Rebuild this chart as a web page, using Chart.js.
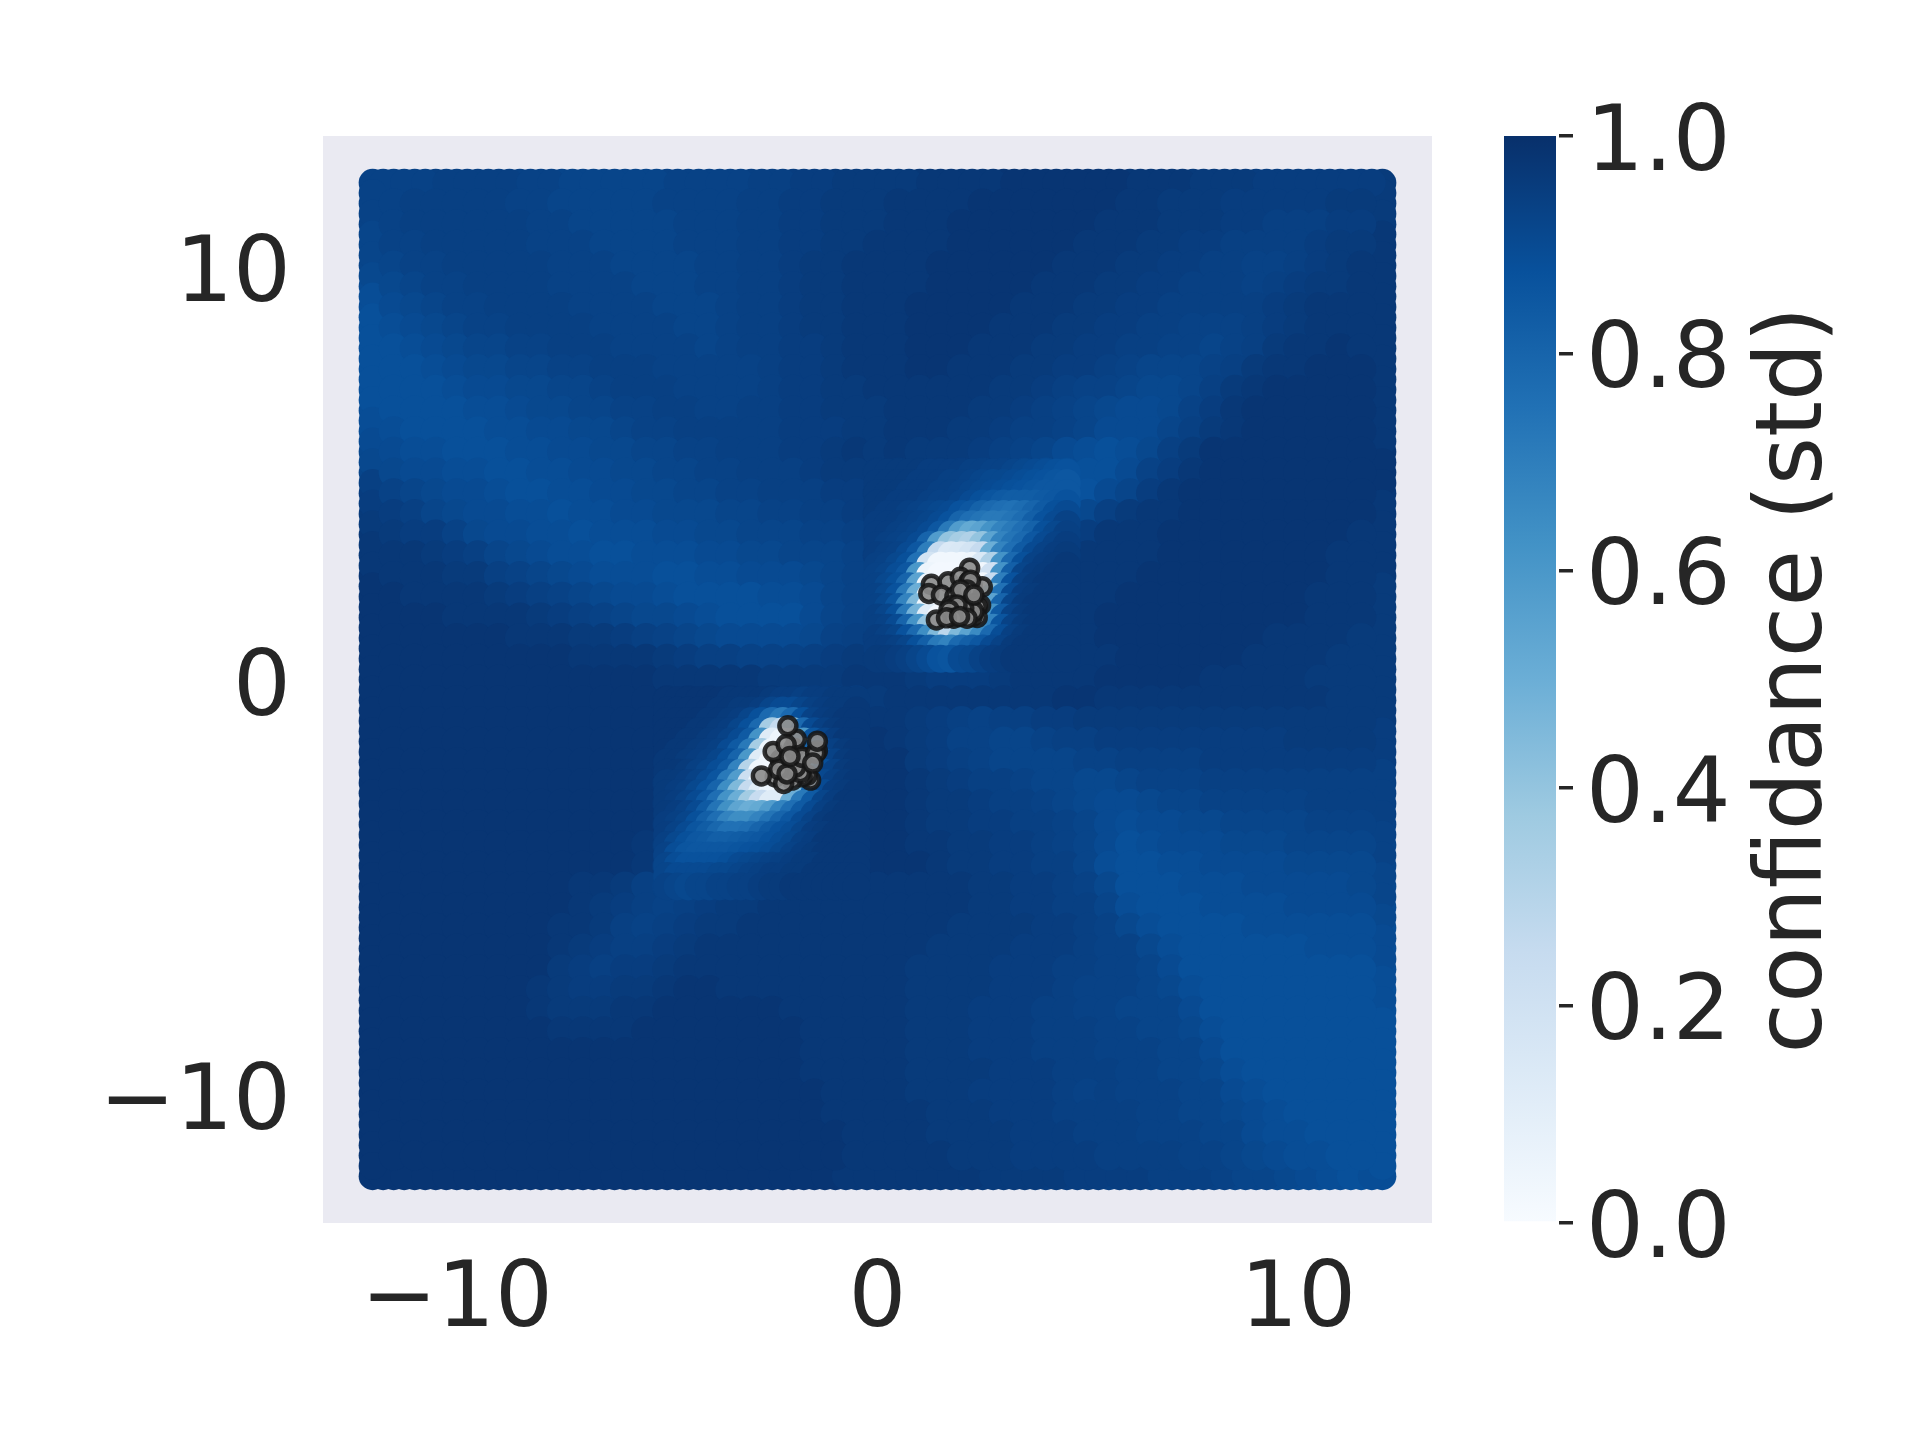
<!DOCTYPE html>
<html><head><meta charset="utf-8"><style>html,body{margin:0;background:#fff}canvas{position:absolute;left:0;top:0}</style>
<script src="https://cdn.jsdelivr.net/npm/chart.js@4"></script></head><body>
<canvas id="main" width="1920" height="1440"></canvas><canvas id="bar" width="1920" height="1440"></canvas>
<script>
const xTicks=[-10,0,10], yTicks=[-10,0,10], barTicks=[0,0.2,0.4,0.6,0.8,1.0];
const barLabel="confidance (std)";
// confidence in percent, rows y=12..-12, columns x=-12..12, step 0.5
const gridRows=[
[93,93,93,94,94,94,94,93,93,92,92,92,92,92,93,93,93,93,94,94,95,95,96,96,96,96,97,97,97,97,98,98,98,98,98,98,97,97,97,96,96,96,95,95,95,95,95,95,96],
[93,93,94,94,94,94,94,93,93,92,92,92,92,92,93,93,93,93,94,94,95,95,96,96,96,97,97,97,97,98,98,98,98,98,98,98,97,97,96,96,96,95,95,95,95,95,96,96,96],
[93,93,94,94,94,94,94,94,93,93,92,92,92,92,92,93,93,93,94,94,95,95,96,96,96,97,97,97,98,98,98,98,98,98,98,97,97,97,96,96,96,95,95,94,94,94,95,95,96],
[92,93,93,94,94,94,94,94,93,93,93,92,92,92,92,93,93,93,94,94,95,95,96,96,97,97,97,97,98,98,98,98,98,98,97,97,97,96,96,95,95,94,94,94,94,95,96,96,97],
[92,92,93,93,94,94,94,94,94,93,93,93,92,92,92,92,93,93,94,94,95,96,96,97,97,97,97,98,98,98,98,98,98,97,97,97,96,96,95,95,94,94,93,93,94,95,96,97,97],
[90,91,92,93,93,94,94,94,94,93,93,93,93,92,92,92,93,93,94,94,95,96,96,97,97,97,97,98,98,98,98,98,97,97,97,96,96,95,95,94,94,94,93,94,95,96,96,97,97],
[89,90,91,92,93,93,94,94,94,94,93,93,93,93,92,92,92,93,94,94,95,96,96,97,97,97,98,98,98,98,98,97,97,97,96,96,95,95,94,94,94,94,94,95,96,97,97,97,97],
[88,89,90,91,92,93,93,94,94,94,94,93,93,93,93,92,92,93,94,94,95,96,96,97,97,97,98,98,98,98,97,97,97,96,96,95,95,94,94,93,93,93,94,95,96,97,97,97,97],
[88,88,89,90,91,92,92,93,93,94,94,94,93,93,93,93,92,93,94,94,95,95,96,97,97,97,98,98,98,97,97,97,96,96,95,95,94,94,93,93,92,93,94,96,97,97,98,97,97],
[88,88,88,89,90,91,91,92,92,93,93,94,94,94,93,93,93,93,93,94,95,95,96,97,97,97,98,98,97,97,97,96,96,95,95,94,93,92,92,92,93,94,96,97,97,98,98,98,97],
[88,88,88,88,89,90,90,91,91,92,92,93,94,94,94,93,93,93,93,94,95,95,96,96,97,97,97,97,97,97,96,96,95,94,93,93,92,91,91,92,94,96,97,98,98,98,98,98,97],
[89,88,88,88,88,89,89,90,91,91,92,92,93,93,94,94,93,93,94,94,95,95,96,96,96,97,97,97,97,96,96,95,94,93,92,91,90,90,91,93,95,97,98,98,98,98,98,98,97],
[89,89,88,88,88,88,89,89,90,90,91,91,92,93,93,94,94,94,94,94,95,95,95,96,96,97,97,97,96,96,95,94,94,93,92,90,90,90,92,94,96,97,98,98,98,98,98,98,97],
[91,90,89,89,88,88,88,89,89,90,90,91,91,92,92,93,93,94,94,94,95,95,96,97,96,97,96,96,96,95,94,93,92,90,89,88,89,91,94,96,98,98,98,98,98,98,98,98,98],
[92,91,90,90,89,89,88,88,89,89,90,90,91,91,92,92,93,93,94,94,94,95,96,96,96,96,96,96,95,94,93,92,90,89,88,88,90,93,95,97,98,98,98,98,98,98,98,98,98],
[95,93,92,91,90,90,89,88,88,89,89,90,90,91,91,92,92,93,93,94,94,94,95,95,96,96,95,95,94,92,91,89,86,85,87,90,92,95,97,98,98,98,98,98,98,98,98,98,97],
[96,95,94,92,91,90,90,89,89,88,89,89,90,90,91,91,91,92,92,93,93,94,94,95,96,95,94,92,88,84,78,79,82,86,91,94,96,97,97,98,98,98,98,98,98,98,98,98,97],
[97,96,95,95,93,91,90,90,89,89,88,89,89,89,90,90,91,91,92,92,92,93,93,94,95,94,92,84,42,60,76,83,88,91,95,97,97,97,98,98,98,98,98,98,98,98,98,97,97],
[97,97,97,96,95,94,92,91,90,89,89,88,88,89,89,89,90,90,91,91,92,92,92,93,95,93,87,35,10,22,66,83,90,93,97,97,97,97,98,98,98,98,98,98,98,98,97,97,97],
[98,97,97,97,96,96,94,93,92,91,90,89,89,89,88,88,89,89,90,90,90,91,92,93,93,89,78,3,2,5,58,85,92,95,97,97,97,98,98,98,98,98,98,98,98,98,97,97,97],
[98,98,97,97,97,97,96,95,94,93,92,91,90,90,89,88,88,88,88,89,89,90,92,93,93,87,65,6,2,5,60,87,94,96,97,97,98,98,98,98,98,98,98,98,98,97,97,97,96],
[98,98,98,98,97,97,97,97,96,95,94,93,92,91,91,90,89,88,88,88,88,90,92,93,94,88,62,15,2,15,70,90,96,97,97,98,98,98,98,98,98,98,98,98,98,97,97,97,96],
[98,98,98,98,98,98,98,97,97,97,96,96,95,94,93,92,91,90,90,90,90,91,93,94,95,92,80,52,22,48,74,90,96,97,97,98,98,98,98,98,98,98,98,97,97,97,97,96,96],
[98,98,98,98,98,98,98,98,98,98,97,97,97,97,96,95,94,94,93,93,93,94,95,96,96,95,92,87,83,87,93,96,97,97,97,97,98,98,98,98,98,98,97,97,97,97,96,96,96],
[98,98,98,98,98,98,98,98,98,98,98,98,98,98,97,97,97,97,97,96,96,96,96,97,97,97,96,95,95,95,96,97,97,97,97,98,98,98,98,98,97,97,97,97,97,96,96,96,96],
[98,98,98,98,98,98,98,98,98,98,98,98,98,98,98,98,98,98,97,97,96,95,95,95,96,97,97,97,97,97,97,97,97,98,98,97,97,97,97,97,97,97,97,97,97,97,96,96,96],
[98,98,98,98,98,98,98,98,98,98,98,98,98,98,98,98,98,97,96,93,85,80,90,96,97,97,96,95,94,93,94,94,95,95,96,96,96,96,96,96,96,96,96,96,96,96,96,96,96],
[98,98,98,98,98,98,98,98,98,98,98,98,98,98,98,98,97,96,94,88,50,10,80,95,98,97,96,95,93,93,92,92,93,94,94,95,95,95,95,95,95,95,95,95,96,96,96,96,95],
[98,98,98,98,98,98,98,98,98,98,98,98,98,98,98,97,96,93,85,20,5,5,60,92,98,98,96,95,94,93,92,92,92,92,93,93,94,94,94,94,95,95,95,95,95,95,95,95,95],
[98,98,98,98,98,98,98,98,98,98,98,98,98,98,97,96,94,88,55,5,5,20,70,93,98,98,97,96,95,94,94,93,92,92,91,91,92,93,93,93,94,94,94,94,94,94,94,94,94],
[98,98,98,98,98,98,98,98,98,98,98,98,98,98,97,96,94,89,70,45,15,50,85,94,98,98,97,96,96,95,94,94,93,92,91,90,90,91,92,92,93,93,93,93,93,94,94,94,94],
[98,98,98,98,98,98,98,98,98,98,98,98,98,98,97,94,90,82,65,60,65,80,90,95,98,98,97,96,96,95,95,94,94,93,92,90,89,90,90,91,91,92,92,92,92,93,93,93,93],
[98,98,98,98,98,98,98,98,98,98,98,98,98,97,96,90,85,80,78,78,85,91,95,97,98,98,97,97,96,96,95,95,94,93,92,90,88,89,90,90,90,91,91,91,92,92,92,92,92],
[98,98,98,98,98,98,98,98,98,98,98,98,98,97,95,87,85,84,85,87,91,94,96,97,98,98,98,97,96,96,95,95,94,94,92,89,88,88,89,89,90,90,90,90,91,91,91,91,92],
[98,98,98,98,98,98,98,98,98,98,97,97,96,94,93,92,93,94,95,96,97,97,97,97,97,97,97,97,97,96,96,95,95,94,93,91,88,88,88,89,89,89,90,90,90,90,90,91,91],
[98,98,98,98,98,98,98,98,98,98,97,96,95,94,93,94,95,96,96,97,97,97,97,97,97,97,97,97,97,96,96,95,95,94,94,92,89,88,88,88,89,89,89,89,90,90,90,90,90],
[98,98,98,98,98,98,98,98,98,97,97,96,94,93,94,95,96,96,97,97,97,97,97,97,97,97,97,97,96,96,96,96,95,95,94,93,91,89,88,88,88,88,89,89,89,89,89,89,89],
[98,98,98,98,98,98,98,98,98,97,96,95,94,94,95,96,97,97,97,97,97,97,97,97,97,97,97,96,96,96,96,95,95,95,94,93,93,91,89,88,88,88,88,88,88,89,89,89,89],
[98,98,98,98,98,98,98,98,98,96,95,94,95,95,96,97,97,97,97,97,97,97,97,97,97,97,96,96,96,96,95,95,95,94,94,93,93,92,90,88,88,88,88,88,88,88,88,88,89],
[98,98,98,98,98,98,98,98,97,96,95,95,96,96,97,98,98,97,97,97,97,97,97,97,97,97,96,96,96,96,95,95,95,94,93,93,93,92,91,89,88,88,88,88,88,88,88,88,88],
[98,98,98,98,98,98,98,98,97,96,96,96,97,97,98,98,98,98,98,98,97,97,97,97,97,97,96,96,96,95,95,95,94,94,93,93,92,92,92,90,88,88,88,88,88,88,88,88,88],
[98,98,98,98,98,98,98,98,98,97,97,97,97,98,98,98,98,98,98,98,98,97,97,97,97,97,96,96,96,95,95,95,94,94,94,93,93,92,92,91,89,88,88,88,88,88,88,88,88],
[98,98,98,98,98,98,98,98,98,98,98,98,98,98,98,98,98,98,98,98,98,97,97,97,97,97,96,96,96,95,95,95,94,94,94,93,93,93,92,92,90,88,88,88,88,88,88,88,88],
[98,98,98,98,98,98,98,98,98,98,98,98,98,98,98,98,98,98,98,98,98,97,97,97,97,97,96,96,96,96,95,95,95,94,94,94,93,93,92,92,91,89,88,88,88,88,88,88,88],
[98,98,98,98,98,98,98,98,98,98,98,98,98,98,98,98,98,98,98,98,98,98,97,97,97,97,96,96,96,95,95,95,95,94,93,94,93,93,93,92,92,90,89,88,88,88,88,88,88],
[98,98,98,98,98,98,98,98,98,98,98,98,98,98,98,98,98,98,98,98,98,98,97,97,97,97,97,96,96,96,95,95,95,94,94,94,94,93,93,92,92,91,90,89,88,88,88,88,88],
[98,98,98,98,98,98,98,98,98,98,98,98,98,98,98,98,98,98,98,98,98,98,98,97,97,97,97,96,96,96,96,95,95,95,94,94,94,93,93,93,92,92,90,89,89,88,88,88,88],
[98,98,98,98,98,98,98,98,98,98,98,98,98,98,98,98,98,98,98,98,98,98,98,97,97,97,97,97,96,96,96,95,95,95,95,94,94,94,94,93,93,92,91,90,89,89,88,88,88],
[98,98,98,98,98,98,98,98,98,98,98,98,98,98,98,98,98,98,98,98,98,98,98,97,97,97,97,97,96,96,96,96,95,95,95,94,95,94,94,94,93,92,92,91,90,89,89,88,89]
];
// midpoints along the outer edge (0.25 offset from the grid)
const edgeTop=[93,93,93,94,94,94,94,93,93,92,92,92,92,92,93,93,93,93,94,94,95,95,96,96,96,96,97,97,97,97,98,98,98,98,98,98,97,97,97,96,96,96,95,95,95,95,95,95];
const edgeBottom=[98,98,98,98,98,98,98,98,98,98,98,98,98,98,98,98,98,98,98,98,98,98,97,97,97,97,97,97,97,96,96,96,96,95,95,95,95,94,94,94,93,92,92,91,90,89,88,89];
const edgeLeft=[93,93,92,92,91,89,88,88,88,88,88,89,90,91,94,95,96,97,97,98,98,98,98,98,98,98,98,98,98,98,98,98,98,98,98,98,98,98,98,98,98,98,98,98,98,98,98,98];
const edgeRight=[96,96,97,97,97,97,97,97,97,97,97,97,97,98,98,97,97,97,97,96,96,96,96,96,96,96,95,95,94,94,94,93,93,92,92,91,90,90,89,89,88,88,88,88,88,88,88,88];
// finer patch round the upper cluster: rows y=5..0.5, columns x=0..4.5, step 0.25
const patchUpper=[
[96,96,96,96,96,95,95,95,95,94,94,93,93,92,91,90,89,88,87],
[96,96,96,96,95,95,95,94,94,93,92,91,91,90,89,88,87,86,85],
[96,96,96,95,95,95,94,94,93,92,91,90,89,88,87,86,85,85,85],
[96,96,95,95,95,94,93,93,92,90,88,86,84,83,83,83,84,85,87],
[96,95,95,94,93,92,91,90,87,85,81,78,76,75,77,80,84,88,90],
[95,95,95,94,93,92,90,87,80,76,74,72,72,74,77,82,87,90,93],
[95,95,94,93,92,90,85,72,58,52,55,62,68,72,76,81,88,91,94],
[95,94,93,92,90,80,58,40,35,32,40,55,68,74,78,85,90,93,95],
[95,94,93,90,85,70,25,14,15,18,25,50,68,76,84,90,93,95,96],
[94,93,91,88,75,18,3,3,3,4,15,32,62,78,88,93,95,96,97],
[93,92,89,85,60,5,2,2,2,2,3,20,62,82,92,95,96,97,97],
[93,91,88,80,55,5,2,2,2,2,3,25,70,87,94,96,97,97,97],
[93,91,87,72,50,5,2,2,2,2,4,45,75,90,95,96,97,97,97],
[93,91,86,68,45,5,2,2,2,2,10,55,80,92,96,97,97,97,97],
[94,92,88,72,48,12,2,2,2,2,25,62,84,93,96,97,97,97,97],
[94,93,90,80,62,40,12,5,5,18,40,68,86,93,96,97,97,97,97],
[95,94,92,87,78,64,45,28,45,55,65,78,89,94,96,97,97,97,97],
[95,95,94,92,88,82,72,68,78,82,85,90,93,96,97,97,97,97,97],
[96,96,95,94,92,90,87,86,90,91,93,95,96,97,97,97,97,97,97]
];
// finer patch round the lower cluster: rows y=-0.5..-5, columns x=-5..-0.5, step 0.25
const patchLower=[
[98,98,98,98,98,98,97,97,97,97,96,95,95,94,95,95,96,96,96],
[98,98,98,98,98,97,97,96,96,95,92,90,90,92,94,95,96,96,97],
[98,98,98,98,97,97,96,95,92,88,78,72,78,88,93,95,96,97,97],
[98,98,98,97,97,96,95,92,88,78,35,25,45,78,90,94,96,97,97],
[98,98,97,97,96,95,93,90,84,62,12,5,15,60,86,92,95,97,97],
[98,97,97,96,95,94,90,84,72,35,5,3,5,40,80,90,94,96,97],
[97,97,96,95,94,92,88,80,60,12,3,3,3,25,72,88,93,96,97],
[97,97,96,94,92,89,84,68,30,4,3,3,3,18,65,88,93,96,97],
[96,96,95,93,90,86,72,58,22,5,3,3,3,22,72,91,94,96,97],
[96,95,94,91,87,80,64,45,25,12,5,5,18,45,78,90,95,96,97],
[96,95,93,90,85,76,62,50,36,24,12,12,50,72,84,92,95,97,97],
[96,95,93,90,84,74,63,54,50,52,58,68,76,84,90,94,96,97,97],
[95,94,92,88,82,76,68,64,64,68,74,80,85,90,93,96,97,97,97],
[95,93,90,86,83,79,75,75,76,80,84,87,89,92,95,96,97,97,97],
[94,91,88,85,84,82,82,83,84,85,87,89,91,94,95,97,97,97,97],
[93,89,86,85,85,85,85,86,87,88,89,91,93,95,96,97,97,97,97],
[92,89,87,87,87,87,88,90,91,92,93,94,95,96,96,97,97,97,97],
[92,90,90,90,90,91,91,92,93,94,95,95,96,96,97,97,97,97,97],
[93,92,91,92,92,93,93,94,94,95,96,96,97,97,97,97,97,97,97]
];
const trainX=[2.19,1.28,1.68,1.97,2.17,2.25,2.49,2.21,1.22,1.52,1.84,2.04,2.13,1.97,2.33,2.45,1.75,2.37,2.37,2.25,2.29,2.05,1.89,1.70,2.13,1.81,1.40,1.64,1.95,2.29,
-1.43,-1.59,-1.67,-1.79,-1.79,-2.03,-1.83,-1.95,-2.43,-2.23,-2.31,-1.99,-1.93,-1.79,-1.47,-1.43,-2.35,-2.48,-2.17,-2.76,-2.15,-2.08,-1.54,-2.13];
const trainY=[2.69,2.30,2.36,2.47,2.36,2.28,2.24,2.40,2.08,2.04,2.00,1.96,2.16,2.16,1.84,1.80,1.78,1.76,1.50,1.52,1.64,1.72,1.80,1.68,1.48,1.48,1.44,1.49,1.52,2.04,
-1.72,-2.43,-2.31,-1.88,-2.35,-2.43,-2.25,-2.12,-2.35,-2.51,-1.94,-1.66,-1.44,-1.88,-1.78,-1.49,-2.17,-1.74,-1.57,-2.33,-2.28,-1.86,-2.02,-1.12];

const blues=[[247,251,255],[222,235,247],[198,219,239],[158,202,225],[107,174,214],[66,146,198],[33,113,181],[8,81,156],[8,48,107]];
function blue(v){const p=Math.min(Math.max(v,0),1)*8,i=Math.min(Math.floor(p),7),t=p-i;
  const c=blues[i].map((a,k)=>Math.round(a+(blues[i+1][k]-a)*t));return `rgb(${c[0]},${c[1]},${c[2]})`;}
function cells(list){return {type:'scatter',data:list.map(p=>({x:p[0],y:p[1]})),
  pointBackgroundColor:list.map(p=>blue(p[2]/100)),pointBorderWidth:0,pointRadius:list.map(p=>p[3]),pointHoverRadius:list.map(p=>p[3]),showLine:false};}
const edgePts=[],innerPts=[],upperPts=[],lowerPts=[];
gridRows.forEach((row,r)=>row.forEach((v,c)=>{
  const x=-12+c*0.5,y=12-r*0.5,isEdge=r==0||c==0||r==48||c==48;
  (isEdge?edgePts:innerPts).push([x,y,v,isEdge?14:15]);}));
for(let i=0;i<48;i++){const m=-11.75+i*0.5;
  edgePts.push([m,12,edgeTop[i],14],[m,-12,edgeBottom[i],14],[-12,-m,edgeLeft[i],14],[12,-m,edgeRight[i],14]);}
patchUpper.forEach((row,r)=>row.forEach((v,c)=>upperPts.push([c*0.25,5-r*0.25,v,14])));
patchLower.forEach((row,r)=>row.forEach((v,c)=>lowerPts.push([-5+c*0.25,-0.5-r*0.25,v,14])));

const ink='#262626', font={family:'"DejaVu Sans"',size:91};
const sign=v=>String(v).replace('-','\u2212');
new Chart(document.getElementById('main'),{
  type:'scatter',
  data:{datasets:[
    {data:trainX.map((x,i)=>({x,y:trainY[i]})),pointRadius:8.5,pointBackgroundColor:'rgba(140,140,140,0.92)',pointBorderColor:'rgba(22,22,22,0.88)',pointBorderWidth:4.5},
    cells(upperPts),cells(lowerPts),cells(innerPts),cells(edgePts)]},
  options:{responsive:false,animation:false,
    layout:{padding:{left:0,top:136,right:488,bottom:0}},
    plugins:{legend:{display:false},tooltip:{enabled:false}},
    scales:{
      x:{min:-13.18,max:13.18,grid:{display:false},border:{display:false},
        afterBuildTicks:a=>{a.ticks=xTicks.map(value=>({value}))},afterFit:s=>{s.height=217},
        ticks:{font,color:ink,padding:17,maxRotation:0,autoSkip:false,callback:sign}},
      y:{min:-13.13,max:13.13,grid:{display:false},border:{display:false},
        afterBuildTicks:a=>{a.ticks=yTicks.map(value=>({value}))},afterFit:s=>{s.width=323},
        ticks:{font,color:ink,padding:24,labelOffset:12,autoSkip:false,callback:sign}}
    }},
  plugins:[{id:'panel',beforeDraw(c){const a=c.chartArea,g=c.ctx;g.save();g.fillStyle='#eaeaf2';g.fillRect(a.left,a.top,a.width,a.height);g.restore();}}]
});
new Chart(document.getElementById('bar'),{
  type:'bar',
  data:{labels:[''],datasets:[{data:[1],barPercentage:52/58,categoryPercentage:1,borderWidth:0,
    backgroundColor(ctx){const c=ctx.chart,a=c.chartArea;if(!a)return blue(1);
      const y=c.scales.y,gr=c.ctx.createLinearGradient(0,y.getPixelForValue(0),0,y.getPixelForValue(1));
      blues.forEach((b,i)=>gr.addColorStop(i/8,blue(i/8)));return gr;}}]},
  options:{responsive:false,animation:false,
    layout:{padding:{left:1501,top:134,right:0,bottom:215}},
    plugins:{legend:{display:false},tooltip:{enabled:false}},
    scales:{
      x:{display:false},
      y:{position:'right',min:-0.0018,max:1.0018,border:{display:false},
        grid:{drawOnChartArea:false,drawTicks:true,tickLength:14,tickColor:ink,tickWidth:3.5,lineWidth:3.5},
        afterBuildTicks:a=>{a.ticks=barTicks.map(value=>({value}))},afterFit:s=>{s.width=361},
        ticks:{font,color:ink,padding:13,labelOffset:10,autoSkip:false,callback:v=>v.toFixed(1)}}
    }},
  plugins:[{id:'barTitle',afterDraw(c){const g=c.ctx;g.save();g.translate(1797,680);g.rotate(-Math.PI/2);
    g.font='92px "DejaVu Sans"';g.fillStyle=ink;g.textAlign='center';g.textBaseline='middle';g.fillText(barLabel,0,0);g.restore();}}]
});
</script></body></html>
